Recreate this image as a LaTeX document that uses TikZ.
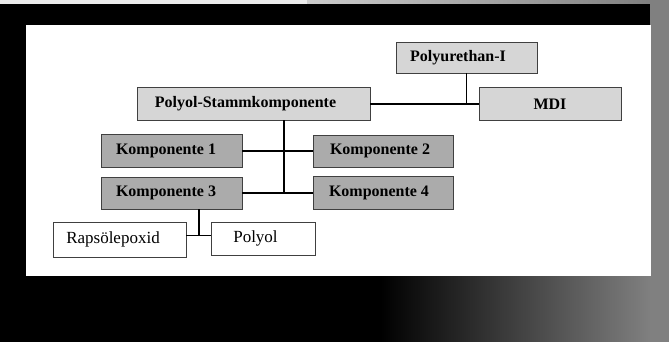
\documentclass[tikz,border=0pt]{standalone}
\usepackage{fontspec}
\setmainfont{Liberation Serif}
\begin{document}
\begin{tikzpicture}[x=1pt,y=-1pt,
  box/.style={draw=black!75,line width=0.8pt,inner sep=0pt,anchor=center,font=\fontsize{16}{16}\selectfont\bfseries},
  lightbox/.style={box,fill=black!16},
  darkbox/.style={box,fill=black!33},
  whitebox/.style={draw=black!75,line width=0.8pt,fill=white,inner sep=0pt,anchor=center,font=\fontsize{17}{17}\selectfont},
  link/.style={draw=black,line width=1.1pt}]
% background
\fill[black] (0,0) rectangle (669,342);
\shade[left color=black,right color=black!50] (380,276) rectangle (650,342);
\fill[black!50] (650,0) rectangle (669,342);
\fill[black!8] (0,0) rectangle (307,4);
\shade[left color=black!20,right color=black!50] (307,0) rectangle (650,4);
\useasboundingbox (0,0) rectangle (669,342);
% white panel
\fill[white] (26,25) rectangle (651,276);
% nodes
\node[lightbox,minimum width=141,minimum height=31] (PU) at (466.5,57.5) {\hspace*{-17pt}Polyurethan-I};
\node[lightbox,minimum width=142,minimum height=33] (MDI) at (550,104) {MDI};
\node[lightbox,minimum width=233,minimum height=33] (PS) at (253.5,104) {\hspace*{-16pt}Polyol-Stammkomponente};
\node[darkbox,minimum width=141,minimum height=33] (K1) at (171.5,151) {\hspace*{-11pt}Komponente 1};
\node[darkbox,minimum width=140,minimum height=32] (K2) at (383,151) {\hspace*{-6pt}Komponente 2};
\node[darkbox,minimum width=141,minimum height=32] (K3) at (171.5,193) {\hspace*{-11pt}Komponente 3};
\node[darkbox,minimum width=140,minimum height=33] (K4) at (383,193) {\hspace*{-8pt}Komponente 4};
\node[whitebox,minimum width=133,minimum height=35] (RE) at (119.5,239.5) {\hspace*{-13pt}Rapsölepoxid};
\node[whitebox,minimum width=104,minimum height=33] (PO) at (263,238.5) {\hspace*{-15pt}Polyol};
% junctions
\coordinate (jPU) at (466.5,104);
\coordinate (tTop) at (284,120.5);
\coordinate (tBot) at (284,193);
\coordinate (jK3) at (199,235.5);
% connectors
\draw[link] (PS.east) -- (MDI.west);
\draw[link] (PU.south) -- (jPU);
\draw[link] (tTop) -- (tBot);
\draw[link] (K1.east) -- (K2.west);
\draw[link] (K3.east) -- (K4.west);
\draw[link] (K3.south -| jK3) -- (jK3);
\draw[link] (RE.east |- jK3) -- (PO.west |- jK3);
\end{tikzpicture}
\end{document}
